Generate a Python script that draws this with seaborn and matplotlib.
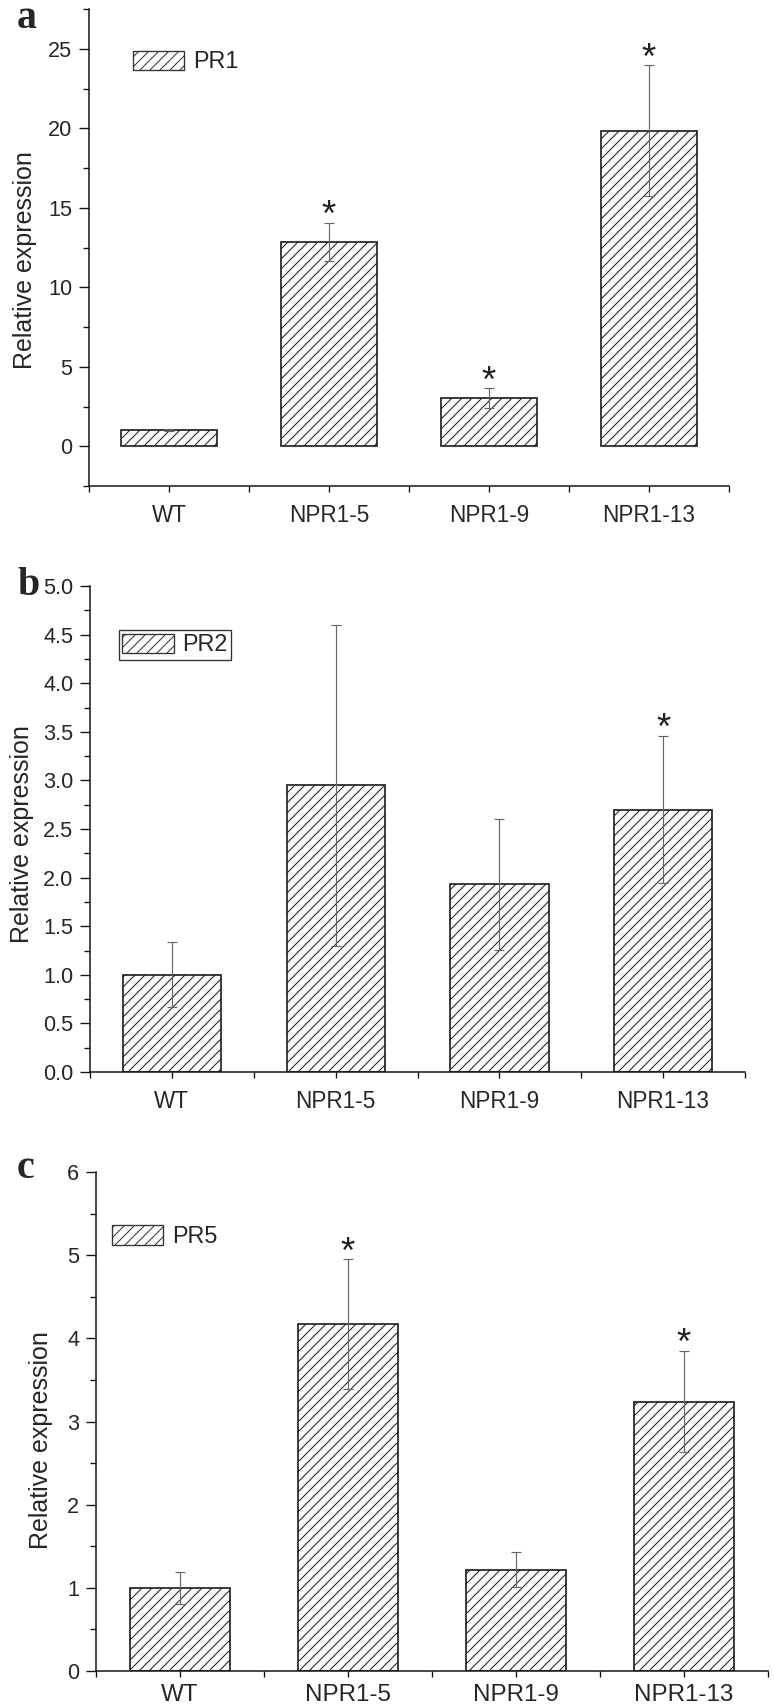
import numpy as np
import pandas as pd
import matplotlib
matplotlib.use("Agg")
import matplotlib.pyplot as plt
import matplotlib.patches as mpatches
from matplotlib.ticker import MultipleLocator, FormatStrFormatter
import seaborn as sns

# ---- data ----
lines = ["WT", "NPR1-5", "NPR1-9", "NPR1-13"]

pr1_mean = [1.0, 12.85, 3.03, 19.85]
pr1_err = [0.07, 1.2, 0.62, 4.1]
pr1_sig = [False, True, True, True]

pr2_mean = [1.0, 2.95, 1.93, 2.70]
pr2_err = [0.335, 1.65, 0.67, 0.76]
pr2_sig = [False, False, False, True]

pr5_mean = [1.0, 4.17, 1.22, 3.24]
pr5_err = [0.19, 0.78, 0.21, 0.61]
pr5_sig = [False, True, False, True]

DPI = 120
W, H = 774, 1707
HATCH = "////"

sns.set_style("ticks")
plt.rcParams["font.family"] = ["Liberation Sans", "DejaVu Sans"]
plt.rcParams["hatch.linewidth"] = 0.6
plt.rcParams["hatch.color"] = "#333333"

fig = plt.figure(figsize=(W / DPI, H / DPI), dpi=DPI)


def px_rect(left, right, top, bottom):
    """axes rectangle from pixel edges of the 774x1707 canvas"""
    return [left / W, 1 - bottom / H, (right - left) / W, (bottom - top) / H]


panels = [
    dict(letter="a", gene="PR1", mean=pr1_mean, err=pr1_err, sig=pr1_sig,
         rect=px_rect(89, 729, 9, 486), ylim=(-2.5, 27.5), major=5, minor=2.5,
         fmt="%d", leg=(0.069, 0.889), frame=False, ylab=(-0.10, 0.474),
         letter_y=28, xfs=13.5, xpad=7),
    dict(letter="b", gene="PR2", mean=pr2_mean, err=pr2_err, sig=pr2_sig,
         rect=px_rect(90, 745, 586, 1072), ylim=(0, 5), major=0.5, minor=0.25,
         fmt="%.1f", leg=(0.044, 0.879), frame=True, ylab=(-0.104, 0.49),
         letter_y=595, xfs=13.5, xpad=7),
    dict(letter="c", gene="PR5", mean=pr5_mean, err=pr5_err, sig=pr5_sig,
         rect=px_rect(96, 768, 1172, 1671), ylim=(0, 6), major=1, minor=0.5,
         fmt="%d", leg=(0.024, 0.871), frame=False, ylab=(-0.082, 0.463),
         letter_y=1178, xfs=14.5, xpad=4),
]

for p in panels:
    ax = fig.add_axes(p["rect"])
    df = pd.DataFrame({"line": lines, "expr": p["mean"], "err": p["err"]})

    sns.barplot(data=df, x="line", y="expr", ax=ax, color="white",
                edgecolor="#1a1a1a", linewidth=1.0, width=0.6,
                errorbar=None, saturation=1)
    for bar in ax.patches:
        bar.set_hatch(HATCH)

    xs = np.arange(len(lines))
    ax.errorbar(xs, df["expr"], yerr=df["err"], fmt="none", ecolor="#666666",
                elinewidth=0.7, capsize=3, capthick=0.7, zorder=5)

    for xi, m, e, s in zip(xs, p["mean"], p["err"], p["sig"]):
        if s:
            ax.annotate("*", xy=(xi, m + e), xytext=(0, -2),
                        textcoords="offset points", ha="center", va="baseline",
                        fontsize=22, color="#222222")

    ax.set_xlim(-0.5, 3.5)
    ax.set_ylim(*p["ylim"])
    sns.despine(ax=ax)
    for sp in ["left", "bottom"]:
        ax.spines[sp].set_linewidth(0.9)
        ax.spines[sp].set_color("#111111")

    ax.yaxis.set_major_locator(MultipleLocator(p["major"]))
    ax.yaxis.set_minor_locator(MultipleLocator(p["minor"]))
    ax.yaxis.set_major_formatter(FormatStrFormatter(p["fmt"]))
    ax.set_xticks([-0.5, 0.5, 1.5, 2.5, 3.5], minor=True)

    ax.tick_params(axis="y", which="major", length=6, width=0.8, pad=4,
                   labelsize=13, color="#111111")
    ax.tick_params(axis="y", which="minor", length=3.6, width=0.8,
                   color="#111111")
    ax.tick_params(axis="x", which="both", length=3.6, width=0.8,
                   pad=p["xpad"], labelsize=p["xfs"], color="#111111")

    ax.set_xlabel("")
    ax.set_ylabel("")
    ax.text(p["ylab"][0], p["ylab"][1], "Relative expression",
            transform=ax.transAxes, rotation=90, ha="center", va="center",
            fontsize=15)

    handle = mpatches.Patch(facecolor="white", edgecolor="#333333",
                            hatch=HATCH, linewidth=0.8, label=p["gene"])
    leg = ax.legend(handles=[handle], loc="center left",
                    bbox_to_anchor=p["leg"], frameon=p["frame"],
                    fontsize=14, handlelength=2.2, handleheight=0.9,
                    handletextpad=0.35,
                    borderpad=0.15 if p["frame"] else 0.0,
                    fancybox=False, borderaxespad=0)
    if p["frame"]:
        leg.get_frame().set_edgecolor("#333333")
        leg.get_frame().set_linewidth(0.8)
        leg.get_frame().set_alpha(1)

    fig.text(17 / W, 1 - p["letter_y"] / H, p["letter"], ha="left",
             va="baseline", fontsize=24, fontweight="bold",
             family=["Liberation Serif", "DejaVu Serif"])

fig.savefig("out.png", dpi=DPI, facecolor="white")
